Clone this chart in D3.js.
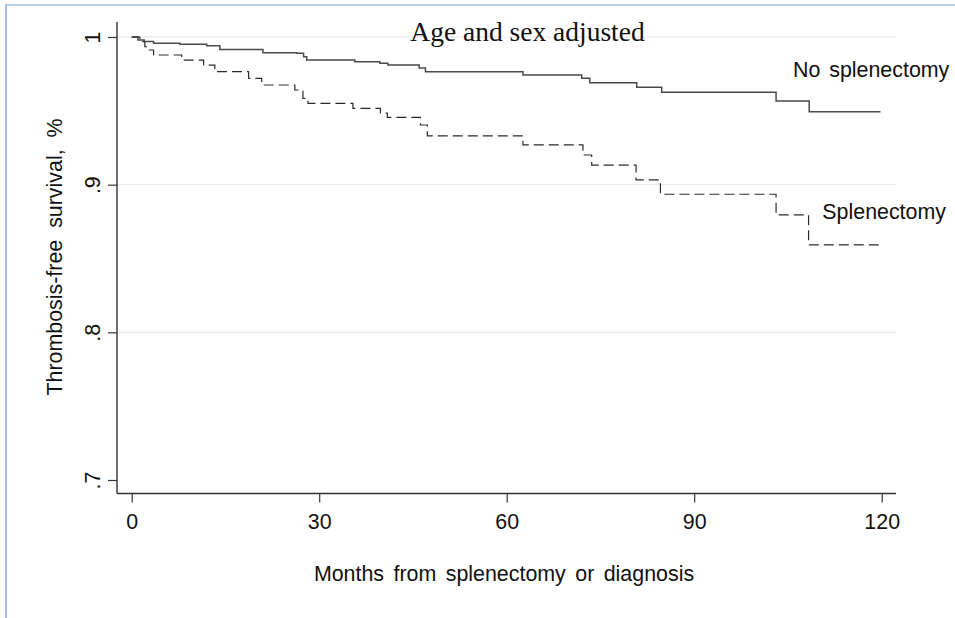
<!DOCTYPE html>
<html>
<head>
<meta charset="utf-8">
<script src="https://cdn.jsdelivr.net/npm/d3@7"></script>
<style>
  html, body { margin: 0; padding: 0; background: #fff; }
  svg { display: block; }
  text { font-family: "Liberation Sans", Arial, sans-serif; fill: #111; }
</style>
</head>
<body>
<svg id="chart" width="955" height="618"></svg>
<script>
// Kaplan-Meier style thrombosis-free survival, age and sex adjusted
const noSplenMonths = [0, 1.0, 2.0, 3.5, 7.7, 12.0, 14.1, 21.0, 26.4, 27.5, 28.0, 35.7, 39.7, 41.0, 46.0, 47.0, 62.6, 72.0, 73.3, 80.8, 84.8, 103.1, 108.4, 119.8];
const noSplenSurv   = [1.0, 0.998, 0.997, 0.9957, 0.9951, 0.9941, 0.9915, 0.9894, 0.989, 0.9866, 0.9844, 0.9833, 0.9822, 0.981, 0.979, 0.9765, 0.9743, 0.972, 0.969, 0.9659, 0.9626, 0.9567, 0.9494, 0.9494];

const splenMonths = [0, 1.3, 2.1, 2.7, 3.5, 8.0, 11.5, 13.3, 18.7, 20.8, 26.1, 27.4, 28.2, 35.4, 39.8, 40.9, 46.2, 47.3, 62.6, 72.2, 73.6, 80.7, 84.6, 103.1, 108.3, 119.8];
const splenSurv   = [1.0, 0.9968, 0.9934, 0.9912, 0.9878, 0.9844, 0.981, 0.9765, 0.972, 0.9675, 0.9641, 0.9585, 0.9551, 0.9517, 0.9485, 0.9456, 0.9404, 0.933, 0.9269, 0.9201, 0.9133, 0.9032, 0.8935, 0.8795, 0.8592, 0.8592];

const xTicks = [0, 30, 60, 90, 120];
const yTicks = [1, 0.9, 0.8, 0.7];
const yTickLabels = ["1", ".9", ".8", ".7"];
const gridValues = [1, 0.9, 0.8];

const seriesNames = ["No splenectomy", "Splenectomy"];
// label anchor points in data units (months, survival)
const labelMonths = [105.8, 110.5];
const labelSurv = [0.973, 0.8768];

const titleText = "Age and sex adjusted";
const xTitle = "Months from splenectomy or diagnosis";
const yTitle = "Thrombosis-free survival, %";

const svg = d3.select("#chart");
const W = 955, H = 618;
const plot = { left: 117, right: 896, top: 22, bottom: 493.5 };
const labelFont = "21.4px";

const x = d3.scaleLinear().domain([0, 120]).range([131.7, 881.7]);
const y = d3.scaleLinear().domain([0.7, 1]).range([480, 37]);

svg.append("rect").attr("width", W).attr("height", H).attr("fill", "#fff");

// thin blue frame at the top and left edges
svg.append("line").attr("x1", 5).attr("x2", W).attr("y1", 5).attr("y2", 5)
  .attr("stroke", "#a7bfe0").attr("stroke-width", 1.6);
svg.append("line").attr("x1", 6).attr("x2", 6).attr("y1", 5).attr("y2", H)
  .attr("stroke", "#a7bfe0").attr("stroke-width", 2);

// horizontal grid
svg.append("g").selectAll("line").data(gridValues).join("line")
  .attr("x1", plot.left).attr("x2", plot.right)
  .attr("y1", d => y(d)).attr("y2", d => y(d))
  .attr("stroke", "#e6e6e6").attr("stroke-width", 1);

// axes
const axisColor = "#333";
const gy = svg.append("g").attr("transform", `translate(${plot.left},0)`)
  .call(d3.axisLeft(y).tickValues(yTicks).tickFormat((d, i) => yTickLabels[i]).tickSize(9).tickSizeOuter(0));
gy.select(".domain").remove();
gy.selectAll(".tick line").attr("stroke", axisColor).attr("stroke-width", 1.2);
gy.selectAll(".tick text")
  .attr("transform", "rotate(-90)")
  .attr("x", 0).attr("y", -17).attr("dy", null)
  .attr("text-anchor", "middle")
  .style("font-size", labelFont).style("fill", "#111");

const gx = svg.append("g").attr("transform", `translate(0,${plot.bottom})`)
  .call(d3.axisBottom(x).tickValues(xTicks).tickSize(9).tickSizeOuter(0));
gx.select(".domain").remove();
gx.selectAll(".tick line").attr("stroke", axisColor).attr("stroke-width", 1.2);
gx.selectAll(".tick text")
  .attr("y", 35.5).attr("dy", null)
  .style("font-size", labelFont).style("fill", "#111");

svg.append("line").attr("x1", plot.left).attr("x2", plot.left)
  .attr("y1", plot.top).attr("y2", plot.bottom)
  .attr("stroke", axisColor).attr("stroke-width", 1.4);
svg.append("line").attr("x1", plot.left).attr("x2", plot.right)
  .attr("y1", plot.bottom).attr("y2", plot.bottom)
  .attr("stroke", axisColor).attr("stroke-width", 1.4);

// survival step curves
const step = d3.line().x(d => x(d[0])).y(d => y(d[1])).curve(d3.curveStepAfter);
const noSplen = noSplenMonths.map((m, i) => [m, noSplenSurv[i]]);
const splen = splenMonths.map((m, i) => [m, splenSurv[i]]);

svg.append("path").datum(noSplen).attr("d", step)
  .attr("fill", "none").attr("stroke", "#4a4a4a").attr("stroke-width", 1.5);
svg.append("path").datum(splen).attr("d", step)
  .attr("fill", "none").attr("stroke", "#2a2a2a").attr("stroke-width", 1.2)
  .attr("stroke-dasharray", "10,5");

// curve labels
svg.append("g").selectAll("text").data(seriesNames).join("text")
  .attr("x", (d, i) => x(labelMonths[i]))
  .attr("y", (d, i) => y(labelSurv[i]))
  .style("font-size", labelFont).style("word-spacing", "3px")
  .text(d => d);

// titles
svg.append("text").attr("x", 527.5).attr("y", 41)
  .attr("text-anchor", "middle")
  .style("font-family", "'Liberation Serif', 'Times New Roman', serif")
  .style("font-size", "27.5px").style("fill", "#111")
  .text(titleText);

svg.append("text").attr("x", 504).attr("y", 581)
  .attr("text-anchor", "middle")
  .style("font-size", labelFont).style("word-spacing", "3.5px")
  .text(xTitle);

svg.append("text").attr("transform", "translate(62,257) rotate(-90)")
  .attr("text-anchor", "middle")
  .style("font-size", labelFont).style("word-spacing", "6px")
  .text(yTitle);
</script>
</body>
</html>
